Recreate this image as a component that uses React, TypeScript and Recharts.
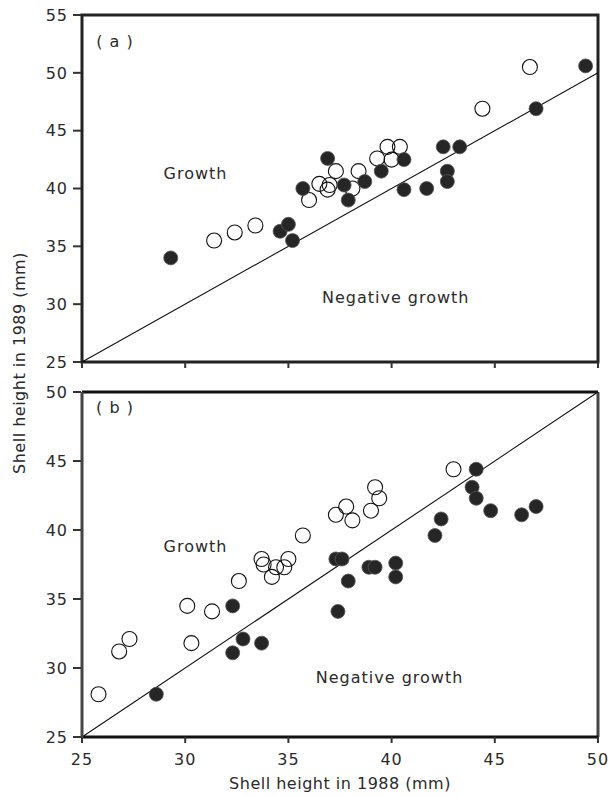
import { ScatterChart, Scatter, XAxis, YAxis, ReferenceLine, ReferenceDot, ReferenceArea, Label } from 'recharts';

const xTicks = [25, 30, 35, 40, 45, 50];
const yTicksA = [25, 30, 35, 40, 45, 50, 55];
const yTicksB = [25, 30, 35, 40, 45, 50];

// shell height pairs [1988, 1989] in mm
const openA = [
  [31.4, 35.5], [32.4, 36.2], [33.4, 36.8], [36.0, 39.0], [37.3, 41.5], [36.5, 40.4],
  [36.9, 39.9], [37.0, 40.3], [38.1, 40.0], [38.4, 41.5], [39.3, 42.6], [39.8, 43.6],
  [40.0, 42.5], [40.4, 43.6], [44.4, 46.9], [46.7, 50.5],
];
const filledA = [
  [29.3, 34.0], [34.6, 36.3], [35.0, 36.9], [35.2, 35.5], [35.7, 40.0], [36.9, 42.6],
  [37.7, 40.3], [37.9, 39.0], [38.7, 40.6], [39.5, 41.5], [40.6, 42.5], [40.6, 39.9],
  [41.7, 40.0], [42.5, 43.6], [42.7, 41.5], [42.7, 40.6], [43.3, 43.6], [47.0, 46.9],
  [49.4, 50.6],
];
const openB = [
  [25.8, 28.1], [26.8, 31.2], [27.3, 32.1], [30.1, 34.5], [30.3, 31.8], [31.3, 34.1],
  [32.6, 36.3], [33.7, 37.9], [33.8, 37.5], [34.2, 36.6], [34.4, 37.3], [34.8, 37.3],
  [35.0, 37.9], [35.7, 39.6], [37.3, 41.1], [37.8, 41.7], [38.1, 40.7], [39.0, 41.4],
  [39.2, 43.1], [39.4, 42.3], [43.0, 44.4],
];
const filledB = [
  [28.6, 28.1], [32.3, 34.5], [32.3, 31.1], [32.8, 32.1], [33.7, 31.8], [37.3, 37.9],
  [37.6, 37.9], [37.9, 36.3], [37.4, 34.1], [38.9, 37.3], [39.2, 37.3], [40.2, 37.6],
  [40.2, 36.6], [42.1, 39.6], [42.4, 40.8], [43.9, 43.1], [44.1, 42.3], [44.1, 44.4],
  [44.8, 41.4], [46.3, 41.1], [47.0, 41.7],
];

const toPts = (arr: number[][]) => arr.map(([x, y]) => ({ x, y }));

const font = '"DejaVu Sans", sans-serif';
const ink = '#2a2a2a';

const OpenDot = (p: any) => (
  <circle cx={p.cx} cy={p.cy} r={7.5} fill="none" stroke="#111" strokeWidth={1.1} />
);
const FilledDot = (p: any) => (
  <circle cx={p.cx} cy={p.cy} r={7} fill="#262626" stroke="#555" strokeWidth={0.8} />
);

const YTick = (p: any) => (
  <g>
    <rect x={p.x + 1} y={p.y - 1} width={8} height={2} fill="#333" />
    <text x={p.x - 4} y={p.y} dy="0.36em" textAnchor="end" fontFamily={font} fontSize={16} fill={ink} letterSpacing={1}>
      {p.payload.value}
    </text>
  </g>
);
const XTick = (p: any) => (
  <g>
    <rect x={p.x - 1} y={p.y - 17} width={2} height={6} fill="#333" />
    {p.showLabel && (
      <text x={p.x} y={p.y} dy="0.71em" textAnchor="middle" fontFamily={font} fontSize={16} fill={ink} letterSpacing={1}>
        {p.payload.value}
      </text>
    )}
  </g>
);

const note = (x: number, y: number, text: string) => (
  <ReferenceDot
    key={text + y}
    x={x}
    y={y}
    r={0}
    fill="none"
    stroke="none"
    label={{ value: text, position: 'center', fill: ink, fontSize: 16, fontFamily: font, letterSpacing: 1 }}
  />
);

export default function App() {
  return (
    <div style={{ position: 'absolute', left: 0, top: 0, width: 613, height: 797, background: '#fff' }}>
      <div style={{ position: 'absolute', left: 0, top: 0 }}>
        <ScatterChart width={613} height={380} margin={{ top: 15, right: 15, bottom: 0, left: 0 }}>
          <XAxis
            dataKey="x"
            type="number"
            domain={[25, 50]}
            ticks={xTicks}
            interval={0}
            height={18}
            tickSize={6}
            tickMargin={11}
            tick={<XTick showLabel={false} />}
            axisLine={false}
            tickLine={false}
          />
          <YAxis
            dataKey="y"
            type="number"
            domain={[25, 55]}
            ticks={yTicksA}
            interval={0}
            width={82}
            tickSize={8}
            tickMargin={2}
            tick={<YTick />}
            axisLine={false}
            tickLine={false}
          />
          <ReferenceArea x1={25} x2={50} y1={25} y2={55} fill="none" stroke="#222" strokeWidth={3} ifOverflow="visible" />
          <ReferenceLine segment={[{ x: 25, y: 25 }, { x: 50, y: 50 }]} stroke="#111" strokeWidth={1.1} />
          {note(26.6, 52.7, '( a )')}
          {note(30.5, 41.3, 'Growth')}
          {note(40.2, 30.6, 'Negative growth')}
          <Scatter data={toPts(openA)} shape={OpenDot} isAnimationActive={false} />
          <Scatter data={toPts(filledA)} shape={FilledDot} isAnimationActive={false} />
        </ScatterChart>
      </div>
      <div style={{ position: 'absolute', left: 0, top: 377 }}>
        <ScatterChart width={613} height={420} margin={{ top: 15, right: 15, bottom: 4, left: 0 }}>
          <XAxis
            dataKey="x"
            type="number"
            domain={[25, 50]}
            ticks={xTicks}
            interval={0}
            height={56}
            tickSize={6}
            tickMargin={11}
            tick={<XTick showLabel />}
            axisLine={{ stroke: '#111', strokeWidth: 3 }}
            tickLine={false}
          >
            <Label
              value="Shell height in 1988 (mm)"
              position="insideBottom"
              offset={4}
              fill={ink}
              stroke="none"
              fontSize={16}
              fontFamily={font}
              letterSpacing={0.5}
            />
          </XAxis>
          <YAxis
            dataKey="y"
            type="number"
            domain={[25, 50]}
            ticks={yTicksB}
            interval={0}
            width={82}
            tickSize={8}
            tickMargin={2}
            tick={<YTick />}
            axisLine={{ stroke: '#444', strokeWidth: 3 }}
            tickLine={false}
          />
          <ReferenceLine y={50} stroke="#111" strokeWidth={3} ifOverflow="visible" />
          <ReferenceLine x={50} stroke="#444" strokeWidth={3} ifOverflow="visible" />
          <ReferenceLine segment={[{ x: 25, y: 25 }, { x: 50, y: 50 }]} stroke="#111" strokeWidth={1.1} />
          {note(26.6, 48.9, '( b )')}
          {note(30.5, 38.8, 'Growth')}
          {note(39.9, 29.3, 'Negative growth')}
          <Scatter data={toPts(openB)} shape={OpenDot} isAnimationActive={false} />
          <Scatter data={toPts(filledB)} shape={FilledDot} isAnimationActive={false} />
        </ScatterChart>
      </div>
      <div
        style={{
          position: 'absolute',
          left: 20 - 150,
          top: 363 - 10,
          width: 300,
          height: 20,
          lineHeight: '20px',
          textAlign: 'center',
          transform: 'rotate(-90deg)',
          fontFamily: font,
          fontSize: 16,
          letterSpacing: 0.5,
          color: ink,
        }}
      >
        Shell height in 1989 (mm)
      </div>
    </div>
  );
}
